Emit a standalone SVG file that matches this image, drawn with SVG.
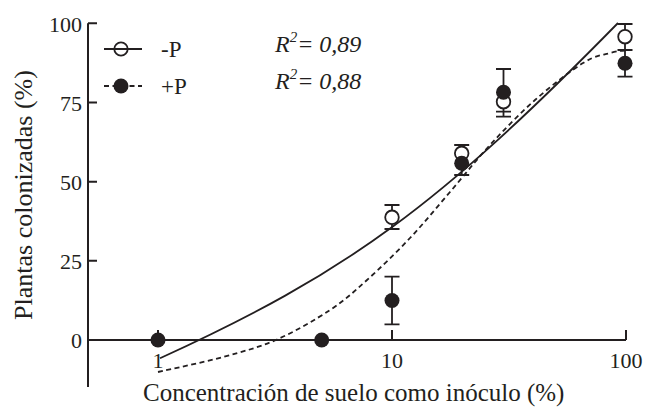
<svg xmlns="http://www.w3.org/2000/svg" width="646" height="407" viewBox="0 0 646 407">
<style>
text{font-family:"Liberation Serif","Times New Roman",serif;fill:#231f20}
.tk{font-size:22px}
.ax{stroke:#231f20;stroke-width:2;fill:none}
.ln{stroke:#231f20;stroke-width:1.8;fill:none}
.ds{stroke:#231f20;stroke-width:1.8;fill:none;stroke-dasharray:5 3.5}
.eb{stroke:#231f20;stroke-width:1.8;fill:none}
.op{stroke:#231f20;stroke-width:1.8;fill:#fff}
.fl{fill:#231f20}
</style>
<rect width="646" height="407" fill="#fff"/>
<g id="axes">
<path class="ax" d="M88 23.3V387M88 340H626"/>
<path class="ax" d="M88 23.3H97M88 102.5H97M88 181.7H97M88 260.8H97M158 340V330M392 340V330M626 340V330"/>
</g>
<g id="ylabels" class="tk" text-anchor="end">
<text x="82" y="31.5">100</text>
<text x="82" y="111">75</text>
<text x="82" y="190">50</text>
<text x="82" y="269">25</text>
<text x="82" y="348">0</text>
</g>
<g id="xlabels" class="tk" text-anchor="middle">
<text x="158" y="368">1</text>
<text x="392" y="368">10</text>
<text x="626" y="368">100</text>
</g>
<text id="xtitle" x="143" y="401" font-size="25">Concentración de suelo como inóculo (%)</text>
<text id="ytitle" transform="translate(32 195) rotate(-90)" text-anchor="middle" font-size="26">Plantas colonizadas (%)</text>
<g id="connectors">
<path id="fit-minusP" class="ln" d="M160 358.3C347 273 438.6 206 618 23"/>
<path id="fit-plusP" class="ds" d="M158 372C168.8 369.5 203.2 362.4 223 357C242.8 351.6 259.2 347.3 277 339.5C294.8 331.7 315 319.9 330 310C345 300.1 353.7 292 367 280C380.3 268 396.2 252.7 410 238C423.8 223.3 436.7 207.5 450 192C463.3 176.5 475.8 160.3 490 145C504.2 129.7 519.5 113.7 535 100C550.5 86.3 570.5 70.8 583 63C595.5 55.2 602.2 55.2 610 53C617.8 50.8 624 50.5 628 50.3"/>
</g>
<g id="errorbars">
<path class="eb" d="M392 205V229M384.5 205H399.5M384.5 229H399.5"/>
<path class="eb" d="M392 276.7V324.3M384.5 276.7H399.5M384.5 324.3H399.5"/>
<path class="eb" d="M461.7 145V175M454.2 145H469.2M454.2 175H469.2"/>
<path class="eb" d="M503.5 69V116.7M496 69H511M496 111.7H511M496 116.7H511"/>
<path class="eb" d="M625 24V76.7M617.5 24H632.5M617.5 50H632.5M617.5 76.7H632.5"/>
</g>
<g id="series-minusP">
<circle class="op" cx="392" cy="217.3" r="6.8"/>
<circle class="op" cx="461.7" cy="153.3" r="6.8"/>
<circle class="op" cx="503.5" cy="101.7" r="6.8"/>
<circle class="op" cx="625" cy="36.7" r="6.8"/>
</g>
<g id="series-plusP">
<circle class="fl" cx="158" cy="340" r="7.5"/>
<circle class="fl" cx="321.7" cy="340" r="7.5"/>
<circle class="fl" cx="392" cy="300.5" r="7.5"/>
<circle class="fl" cx="461.7" cy="163.3" r="7.5"/>
<circle class="fl" cx="503.5" cy="92.3" r="7.5"/>
<circle class="fl" cx="625" cy="63.3" r="7.5"/>
</g>
<g id="legend">
<g id="legend-minusP">
<path class="ln" d="M104 49H142"/>
<circle cx="121" cy="49" r="6.7" fill="none" stroke="#231f20" stroke-width="1.8"/>
<text x="161" y="57" font-size="23">-P</text>
</g>
<g id="legend-plusP">
<path class="ds" d="M104 86H142" stroke-dasharray="3 4"/>
<circle class="fl" cx="121" cy="86" r="7.5"/>
<text x="161" y="94.3" font-size="23">+P</text>
</g>
</g>
<g id="r2" font-style="italic" font-size="24">
<text x="275" y="52.3">R<tspan dy="-10.5" font-size="15">2</tspan><tspan dy="10.5">= 0,89</tspan></text>
<text x="275" y="89.3">R<tspan dy="-10.5" font-size="15">2</tspan><tspan dy="10.5">= 0,88</tspan></text>
</g>
</svg>
